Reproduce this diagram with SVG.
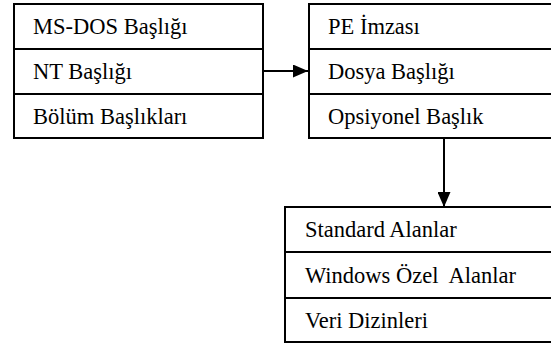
<svg xmlns="http://www.w3.org/2000/svg" width="551" height="343" viewBox="0 0 551 343">
<style>
.box{fill:#fff;stroke:#000;stroke-width:2}
.div{stroke:#000;stroke-width:2}
.t{font-family:"Liberation Serif","Times New Roman",serif;font-size:22.5px;fill:#000;white-space:pre}
.c{stroke:#000;stroke-width:2;fill:none}
</style>
<defs>
<marker id="ah" markerWidth="15" markerHeight="13" refX="15" refY="6.5" orient="auto" markerUnits="userSpaceOnUse">
<path d="M0,0 L15,6.5 L0,13 Z" fill="#000"/>
</marker>
</defs>
<g id="connectors">
<line class="c" x1="263" y1="71" x2="308" y2="71" marker-end="url(#ah)"/>
<line class="c" x1="444" y1="138" x2="444" y2="207" marker-end="url(#ah)"/>
</g>
<g id="pe-header">
<rect class="box" x="14" y="4" width="249" height="134"/>
<line class="div" x1="14" y1="49" x2="263" y2="49"/>
<line class="div" x1="14" y1="94" x2="263" y2="94"/>
<text class="t" x="33" y="34">MS-DOS Başlığı</text>
<text class="t" x="33" y="79">NT Başlığı</text>
<text class="t" x="33" y="124">Bölüm Başlıkları</text>
</g>
<g id="nt-header">
<rect class="box" x="309" y="4" width="260" height="134"/>
<line class="div" x1="309" y1="49" x2="569" y2="49"/>
<line class="div" x1="309" y1="94" x2="569" y2="94"/>
<text class="t" x="328" y="34">PE İmzası</text>
<text class="t" x="328" y="79">Dosya Başlığı</text>
<text class="t" x="328" y="124">Opsiyonel Başlık</text>
</g>
<g id="optional-header">
<rect class="box" x="285" y="207" width="284" height="135"/>
<line class="div" x1="285" y1="252" x2="569" y2="252"/>
<line class="div" x1="285" y1="298" x2="569" y2="298"/>
<text class="t" x="305" y="237">Standard Alanlar</text>
<text class="t" x="305" y="283" xml:space="preserve">Windows Özel  Alanlar</text>
<text class="t" x="305" y="328">Veri Dizinleri</text>
</g>
</svg>
